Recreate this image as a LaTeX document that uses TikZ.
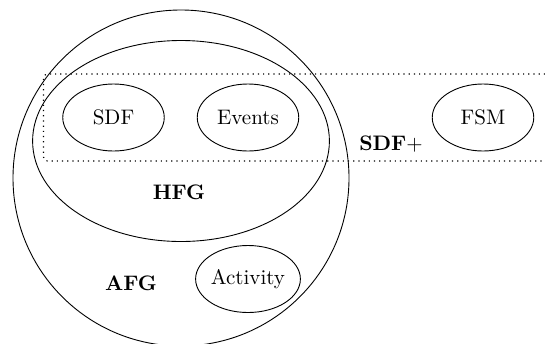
\documentclass[tikz,border=0pt]{standalone}
\usetikzlibrary{shapes.geometric}
\begin{document}
\begin{tikzpicture}[x=0.5pt,y=-0.5pt,
  every node/.style={font=\fontsize{10.5}{12}\selectfont},
  set/.style={draw, ellipse, inner sep=0pt, line width=0.45pt},
  model/.style={set, minimum width=50.75pt, minimum height=33.5pt},
  tag/.style={font=\fontsize{10.5}{12}\selectfont\bfseries, inner sep=0pt},
  family/.style={dotted, line width=0.6pt, rounded corners=2pt}]
\useasboundingbox (0,0) rectangle (545,343);

% outer set: all AFG models
\node[set, minimum width=168pt, minimum height=168pt] (afg) at (181,178) {};
% inner set: HFG models
\node[set, minimum width=148.4pt, minimum height=100.5pt] (hfg) at (181,141) {};

% individual models of computation
\node[model] (sdf) at (113.5,117.5) {SDF};
\node[model] (events) at (248,117.5) {Events};
\node[model] (fsm) at (483,117.5) {FSM};
\node[model] (activity) at (248,279) {Activity};

% set labels
\node[tag] (hfglabel) at (179,192) {HFG};
\node[tag] (afglabel) at (131,283) {AFG};
\node[tag] (sdfplabel) at (391,144) {SDF\mdseries+};

% open band grouping SDF, Events and FSM
\coordinate (bandtop) at (545,74);
\coordinate (bandbot) at (545,161);
\draw[family] (bandtop) -- (43.5,74) -- (43.5,161) -- (bandbot);
\end{tikzpicture}
\end{document}
